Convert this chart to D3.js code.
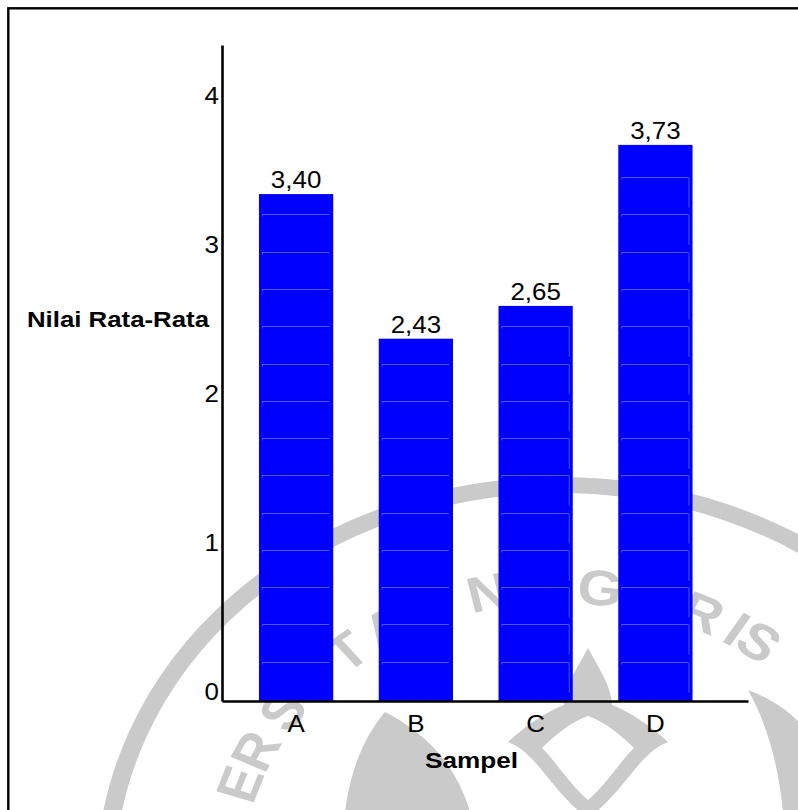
<!DOCTYPE html>
<html>
<head>
<meta charset="utf-8">
<script src="https://cdn.jsdelivr.net/npm/d3@7"></script>
<style>
  html, body { margin: 0; padding: 0; background: #fff; }
  svg { display: block; }
</style>
</head>
<body>
<svg id="chart" width="798" height="810"></svg>
<script>
// ---- data ----
const categories = ["A", "B", "C", "D"];
const values = [3.40, 2.43, 2.65, 3.73];
const yTickValues = [0, 1, 2, 3, 4];
const yMax = 4.40;
const gridStep = 0.25;
const xTitle = "Sampel";
const yTitle = "Nilai Rata-Rata";
// lettering of the background seal that falls inside the page
const sealText = "ERSITAS NEGERI S";
// angle (degrees) of each seal letter around its centre; null = word gap
const sealAngles = [161, 154, 145, 137, 129, 121, 113, null, 102.3, 93, 83.2, 74, 65.2, 58.5, null, 54];

// ---- setup ----
const svg = d3.select("#chart");
const plot = { left: 222, right: 748, top: 45, bottom: 701 };
const font = "Arial, 'Liberation Sans', sans-serif";
const grey = "#cacaca";

const x = d3.scaleBand()
  .domain(categories)
  .range([plot.left, plot.right])
  .paddingInner(0.38)
  .paddingOuter(0.386)
  .align(0.4);

const y = d3.scaleLinear().domain([0, yMax]).range([plot.bottom, plot.top]);

const fmt = d3.formatLocale({ decimal: ",", thousands: ".", grouping: [3], currency: ["", ""] }).format(".2f");

// widen text slightly to the proportions of the chart lettering
function stretch(sel, k) {
  sel.each(function () {
    const n = this.getComputedTextLength();
    d3.select(this).attr("textLength", n * k).attr("lengthAdjust", "spacingAndGlyphs");
  });
}

// ---- background seal ----
const seal = svg.append("g").attr("transform", "translate(560,880) scale(1.15,1)");
seal.append("circle")
  .attr("r", 395)
  .attr("fill", "none")
  .attr("stroke", grey)
  .attr("stroke-width", 16);

const letters = sealText.split("").map((ch, i) => ({ ch, a: sealAngles[i] }))
  .filter(d => d.a !== null && d.ch !== " ");
seal.selectAll("text.seal")
  .data(letters)
  .join("text")
  .attr("class", "seal")
  .attr("transform", d => {
    const r = 295, t = d.a * Math.PI / 180;
    return `translate(${r * Math.cos(t)},${-r * Math.sin(t)}) rotate(${90 - d.a})`;
  })
  .attr("text-anchor", "middle")
  .attr("dy", "0.36em")
  .attr("font-family", font)
  .attr("font-weight", "bold")
  .attr("font-size", 50)
  .attr("fill", grey)
  .text(d => d.ch);

const emblem = svg.append("g").attr("fill", grey);
// central bud
emblem.append("path")
  .attr("fill-rule", "evenodd")
  .attr("d",
    "M588,648 C600,670 612,688 612,705 C630,712 648,724 668,742 C640,752 625,790 592,815 L584,815 " +
    "C551,790 536,752 508,742 C528,724 546,712 564,705 C564,688 576,670 588,648 Z " +
    "M588,716 C605,722 622,736 634,748 C618,764 606,785 588,800 C570,785 558,764 542,748 C554,736 571,722 588,716 Z");
// side leaves
emblem.append("path")
  .attr("d", "M385,712 C420,730 455,760 470,812 L345,812 C350,770 365,735 385,712 Z");
emblem.append("path")
  .attr("d", "M748,690 C775,700 795,715 805,730 L805,812 L783,812 C778,760 765,720 748,690 Z");

// ---- bars ----
const data = categories.map((c, i) => ({ cat: c, value: values[i], i }));

svg.append("g")
  .selectAll("rect")
  .data(data)
  .join("rect")
  .attr("x", d => x(d.cat))
  .attr("y", d => y(d.value))
  .attr("width", x.bandwidth())
  .attr("height", d => y(0) - y(d.value))
  .attr("fill", "#0000ff");

// faint wall grid seen through the bars
const grid = svg.append("g").attr("stroke", "#5252ff").attr("stroke-width", 1);
data.forEach(d => {
  const x0 = x(d.cat), bw = x.bandwidth();
  const levels = d3.range(gridStep, d.value, gridStep).filter(l => y(l) - 2 > y(d.value) + 4);
  levels.forEach(l => {
    const yy = Math.round(y(l) - 2) + 0.5;
    grid.append("line")
      .attr("x1", x0 + 3).attr("x2", x0 + bw - 4)
      .attr("y1", yy).attr("y2", yy);
    grid.append("line")
      .attr("x1", x0 + 3.5).attr("x2", x0 + 3.5)
      .attr("y1", yy).attr("y2", yy + 2);
    if (d.i >= 2) {
      grid.append("line")
        .attr("x1", x0 + bw - 3.5).attr("x2", x0 + bw - 3.5)
        .attr("y1", yy).attr("y2", Math.min(yy + 30, plot.bottom - 2));
    }
  });
});

// ---- value labels ----
svg.append("g")
  .selectAll("text")
  .data(data)
  .join("text")
  .attr("x", d => x(d.cat) + x.bandwidth() / 2)
  .attr("y", d => y(d.value) - 6)
  .attr("text-anchor", "middle")
  .attr("font-family", font)
  .attr("font-size", 24)
  .attr("fill", "#000")
  .text(d => fmt(d.value))
  .call(stretch, 1.08);

// ---- axes ----
const gy = svg.append("g")
  .attr("transform", `translate(${plot.left},0)`)
  .call(d3.axisLeft(y).tickValues(yTickValues).tickFormat(d3.format("d")).tickSize(0).tickSizeOuter(0).tickPadding(3));
gy.select(".domain").attr("stroke", "#000").attr("stroke-width", 2.6);
gy.selectAll(".tick text")
  .attr("y", -9)
  .attr("font-family", font)
  .attr("font-size", 24)
  .attr("fill", "#000")
  .call(stretch, 1.08);

const gx = svg.append("g")
  .attr("transform", `translate(0,${plot.bottom})`)
  .call(d3.axisBottom(x).tickSize(0).tickSizeOuter(0).tickPadding(14));
gx.select(".domain").attr("stroke", "#000").attr("stroke-width", 2.6);
gx.selectAll(".tick text")
  .attr("font-family", font)
  .attr("font-size", 24)
  .attr("fill", "#000")
  .call(stretch, 1.08);

// ---- titles ----
svg.append("text")
  .attr("x", 27).attr("y", 327)
  .attr("font-family", font).attr("font-weight", "bold").attr("font-size", 22)
  .attr("textLength", 182).attr("lengthAdjust", "spacingAndGlyphs")
  .attr("fill", "#000")
  .text(yTitle);

svg.append("text")
  .attr("x", 471.5).attr("y", 768)
  .attr("text-anchor", "middle")
  .attr("font-family", font).attr("font-weight", "bold").attr("font-size", 22)
  .attr("textLength", 93).attr("lengthAdjust", "spacingAndGlyphs")
  .attr("fill", "#000")
  .text(xTitle);

// ---- outer frame ----
svg.append("rect")
  .attr("x", 8.3).attr("y", 8.3)
  .attr("width", 830).attr("height", 840)
  .attr("fill", "none")
  .attr("stroke", "#000")
  .attr("stroke-width", 2.4);
</script>
</body>
</html>
